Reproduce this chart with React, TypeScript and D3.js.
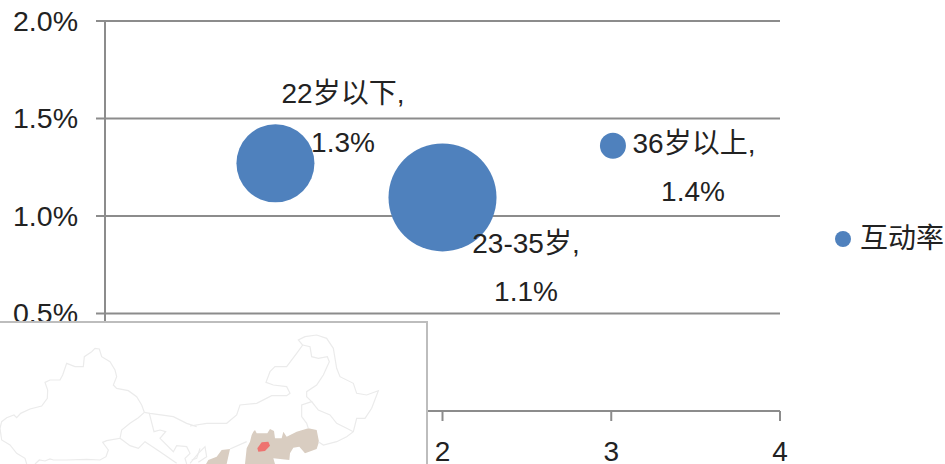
import React from "react";
import * as d3 from "d3";

const W = 945, H = 464;
const categories = ["22岁以下,", "23-35岁,", "36岁以上,"];
const valueLabels = ["1.3%", "1.1%", "1.4%"];
const xValues = [1.01, 2, 3.01];
const yValues = [1.27, 1.095, 1.36];
const sizes = [39, 54, 13];
const yTicks = [0.5, 1, 1.5, 2];
const xTicks = [2, 3, 4];
const grid = "#8c8c8c";
const blue = "#4f81bd";
const font = "'Liberation Sans', 'Noto Sans CJK SC', sans-serif";

type Pt = [number, number];
// Inset map, in zoomed-crop pixels (3x); left part and right part
const westLines: Pt[][] = [
  [[80,417],[75,400],[50,385],[30,360],[5,345],[0,310],[5,290],[20,278],[42,270],[50,278],[62,265],[90,252],[125,243],[142,220],[143,195],[135,172],[150,165],[180,165],[188,150],[200,115],[225,125],[250,125],[253,95],[275,80],[285,70],[298,72],[305,95],[330,110],[345,135],[350,155],[340,180],[350,190],[385,197],[410,215],[425,240],[433,262],[415,278],[390,295],[365,315],[360,340],[320,347],[308,352],[325,375],[318,395],[300,405],[260,403],[200,405],[160,405],[150,402],[135,408],[118,405],[105,417]],
  [[433,262],[450,265],[520,275],[560,295],[590,305]],
  [[448,265],[462,320],[480,315],[497,320],[480,340],[520,380],[530,362],[560,365],[570,385],[555,400],[560,417]],
  [[360,340],[390,362],[415,370],[435,350],[480,380],[530,415]],
  [[600,370],[590,400],[575,405]],
];
const eastLines: Pt[][] = [
  [[0,303],[50,295],[110,295],[140,270],[150,240],[200,235],[245,212],[290,212],[300,205],[290,185],[250,180],[228,172],[240,140],[255,125],[290,125],[320,85],[338,60],[325,45],[345,35],[380,30],[410,40],[430,70],[440,130],[450,155],[490,175],[500,205],[530,210],[565,197],[545,250],[525,280],[500,280],[490,320],[470,335],[440,350],[400,360],[385,350]],
  [[338,60],[360,65],[365,95],[385,100],[412,95],[418,110],[400,150],[380,180],[350,200],[350,215],[365,230],[335,240],[335,275],[350,295],[355,310]],
  [[365,230],[385,255],[420,270],[440,295],[470,310],[490,320]],
  [[0,415],[25,385],[45,365],[50,395],[25,412]],
  [[120,372],[170,350]],
];
const tanAreas: Pt[][] = [
  [[190,320],[195,315],[200,325],[232,325],[240,312],[252,318],[255,340],[275,340],[280,320],[290,335],[320,320],[355,310],[380,315],[387,350],[380,372],[345,385],[328,365],[310,368],[300,385],[298,405],[250,400],[255,417],[165,417],[170,370],[180,350],[185,330]],
  [[48,417],[55,405],[80,395],[95,375],[120,372],[110,417]],
];
const redArea: Pt[] = [[202,370],[215,352],[235,350],[240,362],[225,378],[205,380]];

export default function App() {
  const x = d3.scaleLinear().domain([0, 4]).range([105, 780]);
  const y = d3.scaleLinear().domain([0, 2]).range([411, 21]);
  const labelPos = [
    [343, 93, 343, 142],
    [526, 243, 526, 291],
    [694, 143, 693, 191],
  ];
  const mapY = d3.scaleLinear().domain([0, 3]).range([325, 326]);
  const westX = d3.scaleLinear().domain([0, 3]).range([0, 1]);
  const eastX = d3.scaleLinear().domain([0, 3]).range([190, 191]);
  const west = d3.line<Pt>().x((d) => westX(d[0])).y((d) => mapY(d[1])).curve(d3.curveLinear);
  const east = d3.line<Pt>().x((d) => eastX(d[0])).y((d) => mapY(d[1])).curve(d3.curveLinear);
  return (
    <svg width={W} height={H} style={{ position: "absolute", left: 0, top: 0, background: "#fff" }} fontFamily={font} fontSize={28}>
      {yTicks.map((t) => (
        <g key={t}>
          <line x1={96} x2={780} y1={y(t)} y2={y(t)} stroke={grid} strokeWidth={2} />
          <text x={78} y={y(t)} textAnchor="end" dominantBaseline="central" fill="#222" textLength={65} lengthAdjust="spacingAndGlyphs">{t.toFixed(1)}%</text>
        </g>
      ))}
      <line x1={105} x2={105} y1={21} y2={411} stroke={grid} strokeWidth={2} />
      <line x1={105} x2={780} y1={411} y2={411} stroke={grid} strokeWidth={2} />
      {xTicks.map((t) => (
        <g key={t}>
          <line x1={x(t)} x2={x(t)} y1={411} y2={421} stroke={grid} strokeWidth={2} />
          <text x={x(t)} y={451} textAnchor="middle" dominantBaseline="central" fill="#222">{t}</text>
        </g>
      ))}
      {xValues.map((v, i) => (
        <circle key={i} cx={x(v)} cy={y(yValues[i])} r={sizes[i]} fill={blue} />
      ))}
      {categories.map((c, i) => (
        <g key={c} fill="#222" textAnchor="middle" dominantBaseline="central">
          <text x={labelPos[i][0]} y={labelPos[i][1]}>{c}</text>
          <text x={labelPos[i][2]} y={labelPos[i][3]}>{valueLabels[i]}</text>
        </g>
      ))}
      <circle cx={843} cy={239} r={8} fill={blue} />
      <text x={860} y={238} dominantBaseline="central" fill="#222">互动率</text>
      <rect x={-2} y={322} width={429} height={150} fill="#fff" stroke="#bdbdbd" strokeWidth={2} />
      {tanAreas.map((a, i) => (
        <path key={i} d={(east(a) ?? "") + "Z"} fill="#d9cdc1" />
      ))}
      <path d={(east(redArea) ?? "") + "Z"} fill="#ee7370" />
      <g fill="none" stroke="#ebebeb" strokeWidth={1.2}>
        {westLines.map((l, i) => <path key={i} d={west(l) ?? ""} />)}
        {eastLines.map((l, i) => <path key={i} d={east(l) ?? ""} />)}
      </g>
    </svg>
  );
}
